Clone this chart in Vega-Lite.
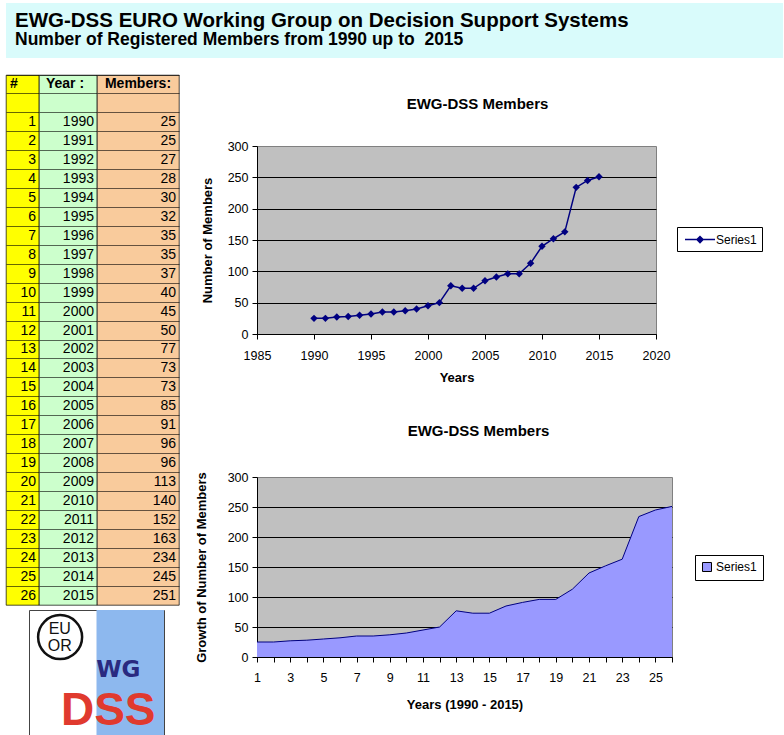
{
  "$schema": "https://vega.github.io/schema/vega-lite/v6.json",
  "padding": {"left": 5, "top": 3, "right": 0, "bottom": 0},
  "background": "white",
  "config": {
    "font": "Liberation Sans",
    "view": {"stroke": null},
    "axis": {"labelFont": "Liberation Sans", "labelFontSize": 12.5, "labelColor": "#000", "titleFont": "Liberation Sans", "titleFontSize": 13, "titleFontWeight": "bold", "titleColor": "#000", "tickColor": "#000", "domainColor": "#000", "tickSize": 5, "labelFlush": false, "labelOverlap": false},
    "legend": {"labelFont": "Liberation Sans", "labelFontSize": 12, "labelColor": "#000"},
    "title": {"font": "Liberation Sans", "fontSize": 15, "fontWeight": "bold", "color": "#000"},
    "text": {"font": "Liberation Sans", "color": "#000"}
  },
  "datasets": {
    "members": [
      {"n": 1, "year": 1990, "members": 25}, {"n": 2, "year": 1991, "members": 25}, {"n": 3, "year": 1992, "members": 27},
      {"n": 4, "year": 1993, "members": 28}, {"n": 5, "year": 1994, "members": 30}, {"n": 6, "year": 1995, "members": 32},
      {"n": 7, "year": 1996, "members": 35}, {"n": 8, "year": 1997, "members": 35}, {"n": 9, "year": 1998, "members": 37},
      {"n": 10, "year": 1999, "members": 40}, {"n": 11, "year": 2000, "members": 45}, {"n": 12, "year": 2001, "members": 50},
      {"n": 13, "year": 2002, "members": 77}, {"n": 14, "year": 2003, "members": 73}, {"n": 15, "year": 2004, "members": 73},
      {"n": 16, "year": 2005, "members": 85}, {"n": 17, "year": 2006, "members": 91}, {"n": 18, "year": 2007, "members": 96},
      {"n": 19, "year": 2008, "members": 96}, {"n": 20, "year": 2009, "members": 113}, {"n": 21, "year": 2010, "members": 140},
      {"n": 22, "year": 2011, "members": 152}, {"n": 23, "year": 2012, "members": 163}, {"n": 24, "year": 2013, "members": 234},
      {"n": 25, "year": 2014, "members": 245}, {"n": 26, "year": 2015, "members": 251}
    ]
  },
  "bounds": "flush",
  "spacing": 17,
  "vconcat": [
    {
      "width": 777, "height": 55,
      "view": {"fill": "#d9fbfb", "stroke": null},
      "data": {"values": [
        {"line": "t", "text": "EWG-DSS EURO Working Group on Decision Support Systems"},
        {"line": "s", "text": "Number of Registered Members from 1990 up to\u00a0 2015"}
      ]},
      "layer": [
        {
          "transform": [{"filter": "datum.line == 't'"}],
          "mark": {"type": "text", "align": "left", "baseline": "alphabetic", "fontSize": 20.5, "fontWeight": "bold", "dx": 9, "dy": 10},
          "encoding": {
            "x": {"datum": 0, "type": "quantitative", "scale": {"domain": [0, 1], "nice": false}, "axis": null},
            "y": {"field": "line", "type": "nominal", "scale": {"domain": ["t", "s"]}, "axis": null},
            "text": {"field": "text"}
          }
        },
        {
          "transform": [{"filter": "datum.line == 's'"}],
          "mark": {"type": "text", "align": "left", "baseline": "alphabetic", "fontSize": 17.5, "fontWeight": "bold", "dx": 9, "dy": 1},
          "encoding": {
            "x": {"datum": 0, "type": "quantitative"},
            "y": {"field": "line", "type": "nominal"},
            "text": {"field": "text"}
          }
        }
      ]
    },
    {
      "spacing": 14,
      "hconcat": [
        {
          "spacing": 3,
          "vconcat": [
            {
              "bounds": "flush",
              "spacing": 0,
              "hconcat": [
                {
                  "width": 33, "height": 530,
                  "view": {"fill": "#ffff00", "stroke": "#000", "strokeWidth": 0.7},
                  "layer": [
                    {
                      "data": {"name": "members"},
                      "mark": {"type": "text", "align": "right", "dx": -3, "fontSize": 14},
                      "encoding": {
                        "y": {"field": "n", "type": "ordinal", "scale": {"type": "band", "domain": [-1, 0, 1, 2, 3, 4, 5, 6, 7, 8, 9, 10, 11, 12, 13, 14, 15, 16, 17, 18, 19, 20, 21, 22, 23, 24, 25, 26], "paddingInner": 0, "paddingOuter": 0}, "axis": {"labels": false, "ticks": false, "domain": false, "grid": true, "gridColor": "#000", "gridWidth": 0.6, "bandPosition": 0, "title": null}},
                        "x": {"datum": 1, "type": "quantitative", "scale": {"domain": [0, 1], "nice": false}, "axis": null},
                        "text": {"field": "n", "type": "quantitative", "format": "d"}
                      }
                    },
                    {
                      "data": {"values": [{}]},
                      "mark": {"type": "text", "align": "left", "dx": 4, "fontSize": 14, "fontWeight": "bold"},
                      "encoding": {
                        "y": {"datum": -1, "type": "ordinal"},
                        "x": {"datum": 0, "type": "quantitative"},
                        "text": {"value": "#"}
                      }
                    }
                  ]
                },
                {
                  "width": 58, "height": 530,
                  "view": {"fill": "#ccffcc", "stroke": "#000", "strokeWidth": 0.7},
                  "layer": [
                    {
                      "data": {"name": "members"},
                      "mark": {"type": "text", "align": "right", "dx": -3, "fontSize": 14},
                      "encoding": {
                        "y": {"field": "n", "type": "ordinal", "scale": {"type": "band", "domain": [-1, 0, 1, 2, 3, 4, 5, 6, 7, 8, 9, 10, 11, 12, 13, 14, 15, 16, 17, 18, 19, 20, 21, 22, 23, 24, 25, 26], "paddingInner": 0, "paddingOuter": 0}, "axis": {"labels": false, "ticks": false, "domain": false, "grid": true, "gridColor": "#000", "gridWidth": 0.6, "bandPosition": 0, "title": null}},
                        "x": {"datum": 1, "type": "quantitative", "scale": {"domain": [0, 1], "nice": false}, "axis": null},
                        "text": {"field": "year", "type": "quantitative", "format": "d"}
                      }
                    },
                    {
                      "data": {"values": [{}]},
                      "mark": {"type": "text", "align": "center", "dx": -3, "fontSize": 14, "fontWeight": "bold"},
                      "encoding": {
                        "y": {"datum": -1, "type": "ordinal"},
                        "x": {"datum": 0.5, "type": "quantitative"},
                        "text": {"value": "Year :"}
                      }
                    }
                  ]
                },
                {
                  "width": 82, "height": 530,
                  "view": {"fill": "#f9cb9c", "stroke": "#000", "strokeWidth": 0.7},
                  "layer": [
                    {
                      "data": {"name": "members"},
                      "mark": {"type": "text", "align": "right", "dx": -3, "fontSize": 14},
                      "encoding": {
                        "y": {"field": "n", "type": "ordinal", "scale": {"type": "band", "domain": [-1, 0, 1, 2, 3, 4, 5, 6, 7, 8, 9, 10, 11, 12, 13, 14, 15, 16, 17, 18, 19, 20, 21, 22, 23, 24, 25, 26], "paddingInner": 0, "paddingOuter": 0}, "axis": {"labels": false, "ticks": false, "domain": false, "grid": true, "gridColor": "#000", "gridWidth": 0.6, "bandPosition": 0, "title": null}},
                        "x": {"datum": 1, "type": "quantitative", "scale": {"domain": [0, 1], "nice": false}, "axis": null},
                        "text": {"field": "members", "type": "quantitative", "format": "d"}
                      }
                    },
                    {
                      "data": {"values": [{}]},
                      "mark": {"type": "text", "align": "center", "fontSize": 14, "fontWeight": "bold"},
                      "encoding": {
                        "y": {"datum": -1, "type": "ordinal"},
                        "x": {"datum": 0.5, "type": "quantitative"},
                        "text": {"value": "Members:"}
                      }
                    }
                  ]
                }
              ]
            },
            {
              "bounds": "flush",
              "spacing": 0,
              "hconcat": [
                {"width": 23, "height": 127, "data": {"values": []}, "mark": "point", "encoding": {}},
                {
                  "width": 135, "height": 127,
                  "view": {"fill": "#ffffff", "stroke": "#444", "strokeWidth": 1},
                  "data": {"values": [{}]},
                  "layer": [
                    {
                      "mark": {"type": "rect", "color": "#8db8ee"},
                      "encoding": {
                        "x": {"datum": "R", "type": "nominal", "scale": {"type": "band", "domain": ["L", "R"], "paddingInner": 0, "paddingOuter": 0}, "axis": null}
                      }
                    },
                    {
                      "mark": {"type": "point", "shape": "M-1.12,0.27A1,1,0,1,1,0.88,0.27A1,1,0,1,1,-1.12,0.27Z", "filled": false, "size": 1936, "stroke": "#111", "strokeWidth": 2.5, "opacity": 1},
                      "encoding": {
                        "x": {"datum": "L", "type": "nominal"},
                        "y": {"datum": "c", "type": "nominal", "scale": {"type": "band", "domain": ["c", "w", "d"], "paddingInner": 0, "paddingOuter": 0}, "axis": null}
                      }
                    },
                    {
                      "mark": {"type": "text", "fontSize": 16, "lineBreak": "\n", "lineHeight": 17, "dx": -3, "dy": -2.5, "color": "#111"},
                      "encoding": {
                        "x": {"datum": "L", "type": "nominal"},
                        "y": {"datum": "c", "type": "nominal"},
                        "text": {"value": "EU\nOR"}
                      }
                    },
                    {
                      "mark": {"type": "text", "fontSize": 23, "fontWeight": "bold", "font": "DejaVu Sans", "color": "#2a2a80", "dx": -12, "dy": -4},
                      "encoding": {
                        "x": {"datum": "R", "type": "nominal"},
                        "y": {"datum": "w", "type": "nominal"},
                        "text": {"value": "WG"}
                      }
                    },
                    {
                      "mark": {"type": "text", "fontSize": 46, "fontWeight": "bold", "color": "#e03a2e", "dx": -22, "dy": -5},
                      "encoding": {
                        "x": {"datum": "R", "type": "nominal"},
                        "y": {"datum": "d", "type": "nominal"},
                        "text": {"value": "DSS"}
                      }
                    }
                  ]
                }
              ]
            }
          ]
        },
        {
          "bounds": "flush",
          "spacing": 0,
          "vconcat": [
            {"width": 10, "height": 71, "data": {"values": []}, "mark": "point", "encoding": {}},
            {
              "bounds": "flush",
              "spacing": 143,
              "resolve": {"scale": {"color": "independent"}, "legend": {"color": "independent"}},
              "vconcat": [
                {
                  "width": 399, "height": 188,
                  "data": {"name": "members"},
                  "view": {"fill": "#c0c0c0", "stroke": "#808080", "strokeWidth": 1},
                  "title": {"text": "EWG-DSS Members", "offset": 28, "dx": 21},
                  "encoding": {
                    "x": {"field": "year", "type": "quantitative", "scale": {"domain": [1985, 2020], "nice": false, "zero": false},
                      "axis": {"values": [1985, 1990, 1995, 2000, 2005, 2010, 2015, 2020], "format": "d", "title": "Years", "grid": false, "labelPadding": 10, "titlePadding": 10}},
                    "y": {"field": "members", "type": "quantitative", "scale": {"domain": [0, 300], "nice": false},
                      "axis": {"values": [0, 50, 100, 150, 200, 250, 300], "title": "Number of Members", "grid": true, "gridColor": "#000", "gridOpacity": {"condition": {"test": "datum.value >= 300", "value": 0}, "value": 1}, "labelPadding": 4, "titlePadding": 13}}
                  },
                  "layer": [
                    {"mark": {"type": "line", "color": "#000080", "strokeWidth": 1.5}},
                    {
                      "mark": {"type": "point", "shape": "diamond", "filled": true, "size": 55, "opacity": 1},
                      "encoding": {
                        "color": {"datum": "Series1", "type": "nominal", "scale": {"range": ["#000080"]},
                          "legend": {"title": null, "orient": "none", "legendX": 420, "legendY": 81, "strokeColor": "#000", "fillColor": "#fff", "padding": 5, "symbolType": "M-0.6,-0.1L3.4,-0.1L3.4,0.1L-0.6,0.1Z M1.4,-0.55L1.95,0L1.4,0.55L0.85,0Z", "symbolSize": 225, "symbolStrokeWidth": 0, "labelOffset": 19}}
                      }
                    }
                  ]
                },
                {
                  "width": 415, "height": 180,
                  "data": {"name": "members"},
                  "view": {"fill": "#c0c0c0", "stroke": "#808080", "strokeWidth": 1},
                  "title": {"text": "EWG-DSS Members", "offset": 32, "dx": 14},
                  "encoding": {
                    "x": {"field": "n", "type": "quantitative", "scale": {"domain": [1, 26], "nice": false, "zero": false},
                      "axis": {"values": [1, 2, 3, 4, 5, 6, 7, 8, 9, 10, 11, 12, 13, 14, 15, 16, 17, 18, 19, 20, 21, 22, 23, 24, 25, 26], "labelExpr": "datum.value % 2 == 1 ? datum.label : ''", "title": "Years (1990 - 2015)", "grid": false, "labelPadding": 9, "titlePadding": 15}},
                    "y": {"field": "members", "type": "quantitative", "scale": {"domain": [0, 300], "nice": false},
                      "axis": {"values": [0, 50, 100, 150, 200, 250, 300], "title": "Growth of Number of Members", "grid": true, "gridColor": "#000", "gridOpacity": {"condition": {"test": "datum.value >= 300", "value": 0}, "value": 1}, "labelPadding": 4, "titlePadding": 19}}
                  },
                  "layer": [
                    {
                      "mark": {"type": "area", "opacity": 1},
                      "encoding": {
                        "color": {"datum": "Series1", "type": "nominal", "scale": {"range": ["#9999ff"]},
                          "legend": {"title": null, "orient": "none", "legendX": 438, "legendY": 78, "strokeColor": "#000", "fillColor": "#fff", "padding": 6, "symbolType": "square", "symbolSize": 81, "symbolStrokeColor": "#000", "symbolStrokeWidth": 1, "labelOffset": 3}}
                      }
                    },
                    {"mark": {"type": "line", "color": "#000080", "strokeWidth": 1}}
                  ]
                }
              ]
            }
          ]
        }
      ]
    }
  ]
}
